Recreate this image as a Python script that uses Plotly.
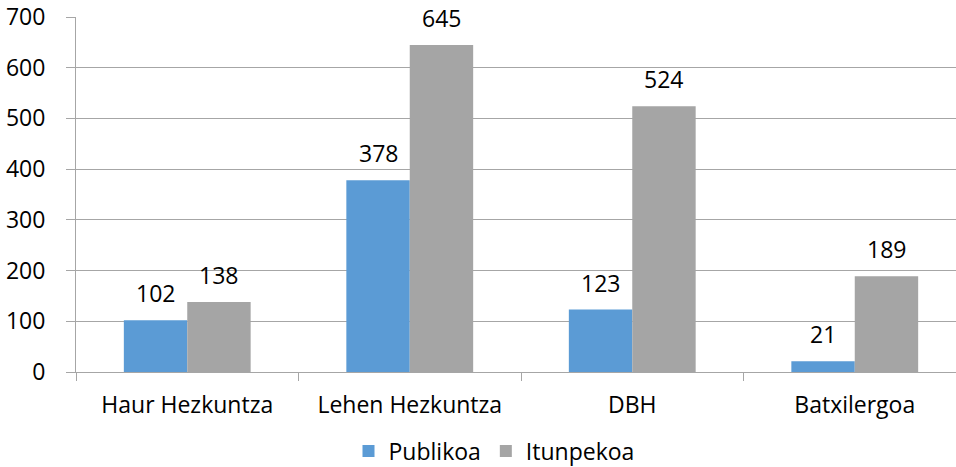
import plotly.graph_objects as go

categories = ["Haur Hezkuntza", "Lehen Hezkuntza", "DBH", "Batxilergoa"]
publikoa = [102, 378, 123, 21]
itunpekoa = [138, 645, 524, 189]
series_names = ["Publikoa", "Itunpekoa"]
colors = ["#5B9BD5", "#A5A5A5"]

FONT = "Open Sans"
FS = 23
GRID = "#A6A6A6"

fig = go.Figure()
for name, vals, col in zip(series_names, [publikoa, itunpekoa], colors):
    fig.add_trace(go.Bar(name=name, x=categories, y=vals, marker=dict(color=col, line=dict(width=0))))

bargap = 0.43
bw = (1 - bargap) / 2
annotations = []
for si, vals in enumerate([publikoa, itunpekoa]):
    off = -bw / 2 if si == 0 else bw / 2
    for ci, v in enumerate(vals):
        annotations.append(dict(x=ci + off, y=v, xref="x", yref="y", text=str(v), showarrow=False,
                                yanchor="middle", yshift=27, font=dict(family=FONT, size=FS, color="#000")))

fig.update_layout(
    width=956, height=467,
    margin=dict(l=76, r=0, t=17, b=95, autoexpand=False),
    barmode="group", bargap=bargap, bargroupgap=0,
    plot_bgcolor="white", paper_bgcolor="white",
    font=dict(family=FONT, size=FS, color="#000"),
    showlegend=True,
    legend=dict(orientation="h", x=494 / 956, y=1 - 451 / 467, xref="container", yref="container",
                xanchor="center", yanchor="middle",
                font=dict(family=FONT, size=FS), traceorder="normal"),
    annotations=annotations,
)
fig.update_xaxes(range=[-0.5, 3.455], showline=True, linecolor=GRID, linewidth=1,
                 ticks="outside", tickson="boundaries", ticklen=8, tickcolor=GRID,
                 showgrid=False, ticklabelstandoff=12, automargin=False)
fig.update_yaxes(range=[0, 700], dtick=100, showgrid=True, gridcolor=GRID, gridwidth=1,
                 showline=True, linecolor=GRID, linewidth=1, ticks="outside", ticklen=9,
                 tickcolor=GRID, zeroline=False, ticklabelstandoff=16, automargin=False)

fig.write_html("out.html", config={"displayModeBar": False},
               post_script="document.body.style.margin='0';document.body.style.overflow='hidden';")
